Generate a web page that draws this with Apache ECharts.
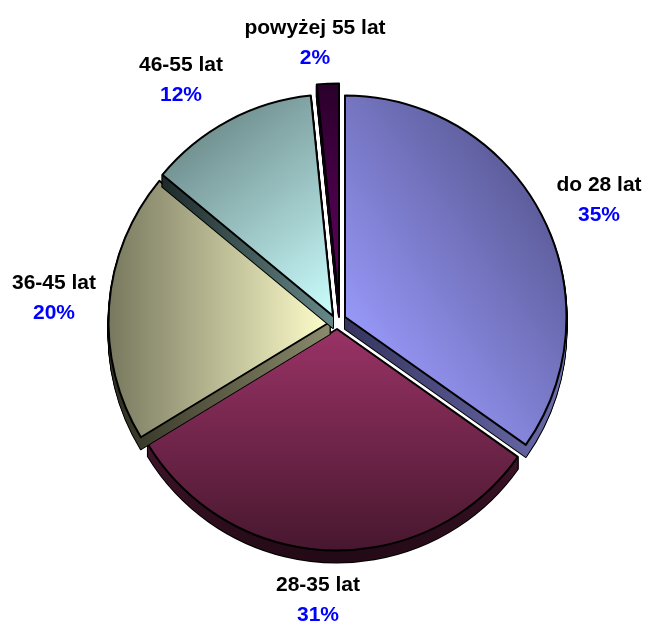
<!DOCTYPE html>
<html><head><meta charset="utf-8">
<style>html,body{margin:0;padding:0;background:#fff}#c{width:646px;height:623px}</style>
<script src="https://cdn.jsdelivr.net/npm/echarts@6/dist/echarts.min.js"></script>
</head><body><div id="c"></div>
<script>
const categories = ['do 28 lat', '28-35 lat', '36-45 lat', '46-55 lat', 'powyżej 55 lat'];
const shares = [34.8, 31.49, 19.71, 12.4, 1.6];

const centers = [[345,317],[337,329],[330,322],[333,316],[339,305]];
const labelAt = [[599,200],[318,600],[54,298],[181,80],[315,43]];
const RADIUS = 221.5, DEPTH = 12;
const drawOrder = [1,2,3,4,0];
const grad = (x,y,x2,y2,a,b) => ({type:'linear',x,y,x2,y2,colorStops:[{offset:0,color:a},{offset:1,color:b}]});
const faces = [
  grad(0,0.72,1,0.25,'#9C9CFF','#54548E'),
  grad(0,0,0,1,'#9A3366','#47172E'),
  grad(0,0,1,0,'#77775E','#FFFFCC'),
  grad(0,0,1,1,'#5C7676','#CCFFFF'),
  grad(0,0,0,1,'#2A002A','#660066')
];
const sides = [
  grad(0,0,1,0,'#35355F','#6C6CAE'),
  grad(0,0,0,1,'#5A1F3E','#240A16'),
  grad(0,0,1,0,'#2E2E20','#8A8A6C'),
  grad(0,0,1,0,'#1E2A2A','#668888'),
  grad(0,0,0,1,'#1E001E','#330033')
];

function layer(idx, dy, itemStyle, withLabel){
  return {
    type:'pie', silent:true, animation:false, startAngle:90, clockwise:true,
    radius:[0,RADIUS], center:[centers[idx][0], centers[idx][1]+dy],
    percentPrecision:0, avoidLabelOverlap:false,
    labelLine:{show:false},
    labelLayout: withLabel ? {x:labelAt[idx][0], y:labelAt[idx][1], align:'center', verticalAlign:'middle'} : undefined,
    label:{show:false},
    data: categories.map((name,i)=> i===idx ? {
      name, value:shares[i], itemStyle,
      label: withLabel ? {
        show:true, position:'outside',
        formatter:'{n|{b}}\n{p|{d}%}',
        rich:{
          n:{fontFamily:'Liberation Sans',fontWeight:'bold',fontSize:21,color:'#000',lineHeight:30,align:'center'},
          p:{fontFamily:'Liberation Sans',fontWeight:'bold',fontSize:21,color:'#0000FF',lineHeight:30,align:'center'}
        }
      } : {show:false}
    } : {name, value:shares[i], itemStyle:{color:'rgba(0,0,0,0)',borderWidth:0,opacity:0}, label:{show:false}})
  };
}
const series = [];
drawOrder.forEach(i=>{
  for(let d=DEPTH;d>=1;d-=1) series.push(layer(i,d,{color:'#000',borderColor:'#000',borderWidth:2},false));
  for(let d=DEPTH;d>=1;d-=1) series.push(layer(i,d,{color:sides[i],borderWidth:0},false));
  series.push(layer(i,0,{color:faces[i],borderColor:'#000',borderWidth:2},true));
});
const chart = echarts.init(document.getElementById('c'),null,{renderer:'canvas'});
chart.setOption({backgroundColor:'#fff',animation:false,tooltip:{show:false},series});
</script></body></html>
